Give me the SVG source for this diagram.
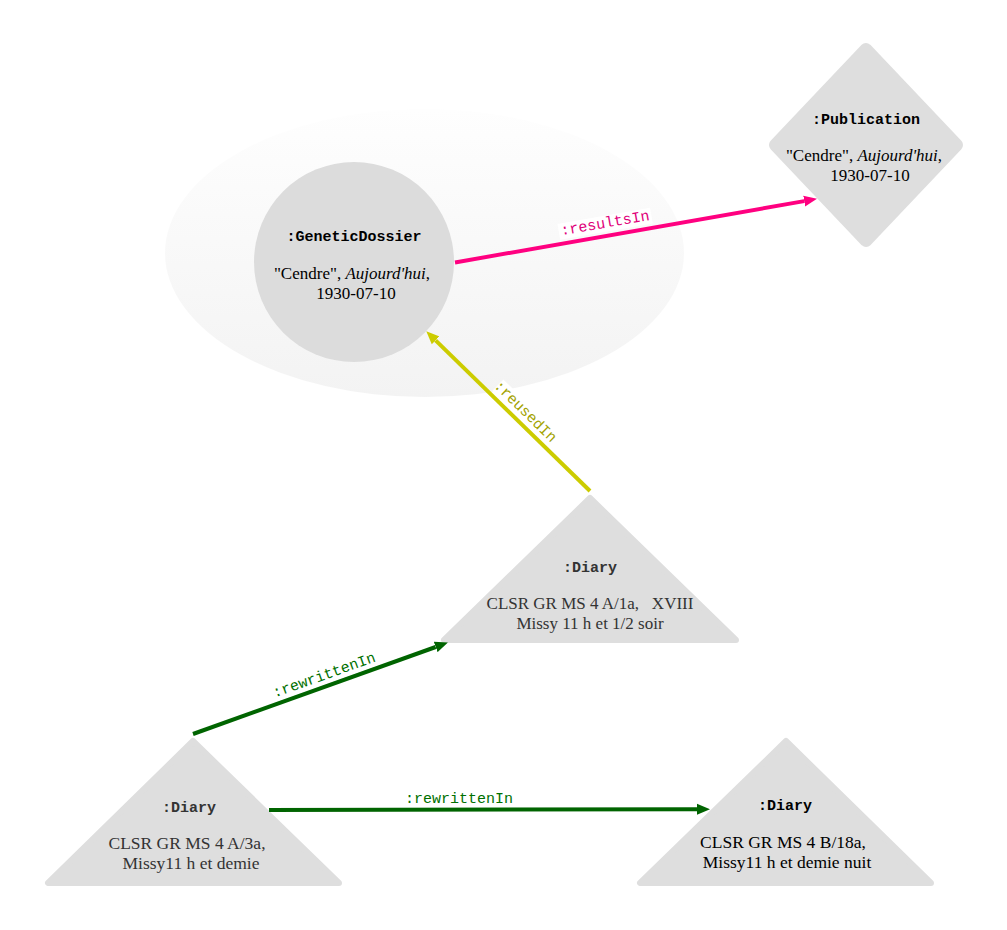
<svg xmlns="http://www.w3.org/2000/svg" width="1007" height="930" viewBox="0 0 1007 930">
<defs>
<linearGradient id="bg" x1="0" y1="0" x2="0" y2="1">
<stop offset="0" stop-color="#fefefe"/>
<stop offset="1" stop-color="#f3f3f3"/>
</linearGradient>
<marker id="mPink" markerUnits="userSpaceOnUse" markerWidth="14" markerHeight="12" refX="0" refY="6" orient="auto"><path d="M0,0.5 L13,6 L0,11.5 z" fill="#ff0080"/></marker>
<marker id="mYellow" markerUnits="userSpaceOnUse" markerWidth="14" markerHeight="12" refX="0" refY="6" orient="auto"><path d="M0,0.5 L13,6 L0,11.5 z" fill="#cccc00"/></marker>
<marker id="mGreen" markerUnits="userSpaceOnUse" markerWidth="14" markerHeight="12" refX="0" refY="6" orient="auto"><path d="M0,0.5 L13,6 L0,11.5 z" fill="#006400"/></marker>
<style>
.shape{fill:#dedede;stroke:#dedede;stroke-width:6;stroke-linejoin:round}
.diamond{fill:#dedede;stroke:#dedede;stroke-width:12;stroke-linejoin:round}
.title{font-family:"Liberation Mono","DejaVu Sans Mono",monospace;font-weight:bold;font-size:15px;text-anchor:middle}
.body{font-family:"Liberation Serif","Times New Roman",serif;font-size:17px;text-anchor:middle;white-space:pre}
.tri{font-size:17.5px}
.dark{fill:#333333}
.black{fill:#000000}
.edge{fill:none;stroke-width:4}
.lbl{font-family:"Liberation Mono","DejaVu Sans Mono",monospace;font-size:15px;text-anchor:middle}
.lblbg{fill:#ffffff}
</style>
</defs>
<rect width="1007" height="930" fill="#ffffff"/>
<ellipse id="group-bg" cx="424.5" cy="253" rx="259.5" ry="144" fill="url(#bg)"/>

<g id="node-geneticdossier">
<circle cx="354" cy="262" r="100" fill="#dcdcdc"/>
<text class="title black" x="354" y="241">:GeneticDossier</text>
<text class="body black" x="352" y="279">"Cendre", <tspan font-style="italic">Aujourd'hui</tspan>,</text>
<text class="body black" x="356" y="299">1930-07-10</text>
</g>

<g id="node-publication">
<polygon class="diamond" points="866,49 957,145 866,241 775,145"/>
<text class="title black" x="866" y="124">:Publication</text>
<text class="body black" x="864" y="161">"Cendre", <tspan font-style="italic">Aujourd'hui</tspan>,</text>
<text class="body black" x="870" y="181">1930-07-10</text>
</g>

<g id="node-diary-a1a">
<polygon class="shape" points="590,498 444,640 736,640"/>
<text class="title dark" x="590" y="572">:Diary</text>
<text class="body dark" x="590" y="609" xml:space="preserve">CLSR GR MS 4 A/1a,   XVIII</text>
<text class="body dark" x="590" y="629">Missy 11 h et 1/2 soir</text>
</g>

<g id="node-diary-a3a">
<polygon class="shape" points="193,741 48,883 339,883"/>
<text class="title dark" x="189" y="812">:Diary</text>
<text class="body tri dark" x="187" y="849">CLSR GR MS 4 A/3a,</text>
<text class="body tri dark" x="191" y="869">Missy11 h et demie</text>
</g>

<g id="node-diary-b18a">
<polygon class="shape" points="786,741 640,883 931,883"/>
<text class="title black" x="785" y="810">:Diary</text>
<text class="body tri black" x="783" y="848">CLSR GR MS 4 B/18a,</text>
<text class="body tri black" x="787" y="868">Missy11 h et demie nuit</text>
</g>

<g id="connectors">
<line class="edge" x1="455" y1="262.5" x2="804.2" y2="201.1" stroke="#ff0080" marker-end="url(#mPink)"/>
<line class="edge" x1="590" y1="491" x2="435.6" y2="340.4" stroke="#cccc00" marker-end="url(#mYellow)"/>
<line class="edge" x1="193" y1="734" x2="435.7" y2="647" stroke="#006400" marker-end="url(#mGreen)"/>
<line class="edge" x1="269" y1="810" x2="697" y2="809.2" stroke="#006400" marker-end="url(#mGreen)"/>

<g transform="translate(607,234.5) rotate(-9.93)">
<rect class="lblbg" x="-47" y="-19" width="94" height="16"/>
<text class="lbl" x="0" y="-7" fill="#e0007a">:resultsIn</text>
</g>
<g transform="translate(518,419) rotate(44.3)">
<rect class="lblbg" x="-38" y="-18" width="76" height="16"/>
<text class="lbl" x="0" y="-6" fill="#a3a300">:reusedIn</text>
</g>
<g transform="translate(328,686) rotate(-19.7)">
<rect class="lblbg" x="-56" y="-19" width="112" height="16"/>
<text class="lbl" x="0" y="-7" fill="#007000">:rewrittenIn</text>
</g>
<g transform="translate(459,809.6)">
<rect class="lblbg" x="-56" y="-19" width="112" height="16"/>
<text class="lbl" x="0" y="-7" fill="#007000">:rewrittenIn</text>
</g>
</g>
</svg>
